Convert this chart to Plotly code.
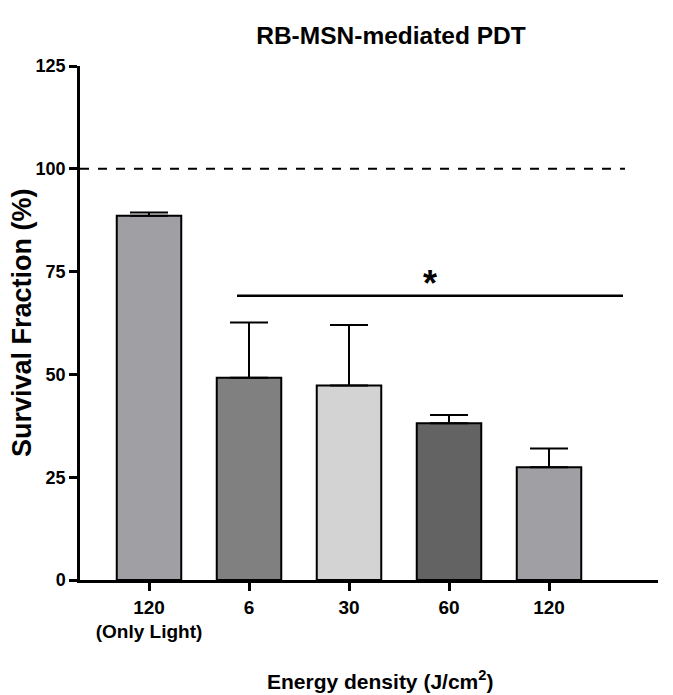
import plotly.graph_objects as go

categories = ["120<br>(Only Light)", "6", "30", "60", "120"]
means = [88.6, 49.2, 47.3, 38.1, 27.4]
errors = [0.8, 13.4, 14.7, 2.0, 4.6]
colors = ["#A09FA4", "#808080", "#D3D3D3", "#636363", "#A09FA4"]
y_ticks = [0, 25, 50, 75, 100, 125]
reference_level = 100
sig_level = 69.1

x = list(range(len(categories)))

fig = go.Figure()
fig.add_trace(go.Bar(
    x=x, y=means, width=0.645,
    marker=dict(color=colors, line=dict(color="black", width=2)),
    error_y=dict(type="data", symmetric=False, array=errors,
                 arrayminus=[0] * len(errors), color="black",
                 thickness=2, width=19),
    showlegend=False,
))

fig.add_shape(type="line", xref="paper", yref="y", x0=0, x1=(625 - 80) / 578,
              y0=reference_level, y1=reference_level,
              line=dict(color="black", width=2, dash="dash"))
fig.add_shape(type="line", xref="x", yref="y", x0=0.88, x1=4.74,
              y0=sig_level, y1=sig_level, line=dict(color="black", width=2.5))
fig.add_annotation(x=2.81, y=sig_level, yshift=-10, text="<b>*</b>", showarrow=False,
                   yanchor="bottom", font=dict(size=36, color="black",
                                               family="Liberation Sans, Arial"))
fig.add_annotation(xref="paper", yref="paper", x=-58 / 578, xanchor="center",
                   y=0.5, yanchor="middle", textangle=-90, showarrow=False,
                   text="<b>Survival Fraction (%)</b>",
                   font=dict(size=27, family="Liberation Sans, Arial", color="black"))
fig.add_annotation(xref="paper", yref="paper", x=(380 - 80) / 578, xanchor="center",
                   y=(580 - 680) / 514, yanchor="middle", showarrow=False,
                   text="<b>Energy density (J/cm<sup>2</sup>)</b>",
                   font=dict(size=21, family="Liberation Sans, Arial", color="black"))

font_n = "Liberation Sans, Arial"
fig.update_layout(
    width=673, height=695,
    margin=dict(l=80, r=15, t=66, b=115, autoexpand=False),
    plot_bgcolor="white", paper_bgcolor="white",
    title=dict(text="<b>RB-MSN-mediated PDT</b>", x=(391) / 673, xanchor="center",
               y=1 - 35 / 695, yanchor="middle",
               font=dict(size=24.5, family=font_n, color="black")),
    xaxis=dict(
        range=[-0.69, 5.09], tickmode="array", tickvals=x,
        ticktext=["<b>" + c.replace("<br>", "</b><br><b>") + "</b>" for c in categories],
        showline=True, linecolor="black", linewidth=2.5,
        ticks="outside", ticklen=8, tickwidth=3, tickcolor="black",
        showgrid=False, zeroline=False,
        tickfont=dict(size=19, family=font_n, color="black"),
    ),
    yaxis=dict(
        range=[0, 125], tickmode="array", tickvals=y_ticks,
        ticktext=["<b>%d</b>" % v for v in y_ticks],
        showline=True, linecolor="black", linewidth=2.5,
        ticks="outside", ticklen=8, tickwidth=2.5, tickcolor="black",
        showgrid=False, zeroline=False,
        tickfont=dict(size=18, family=font_n, color="black"),
    ),
    bargap=0.355,
)

fig.write_html("out.html")
